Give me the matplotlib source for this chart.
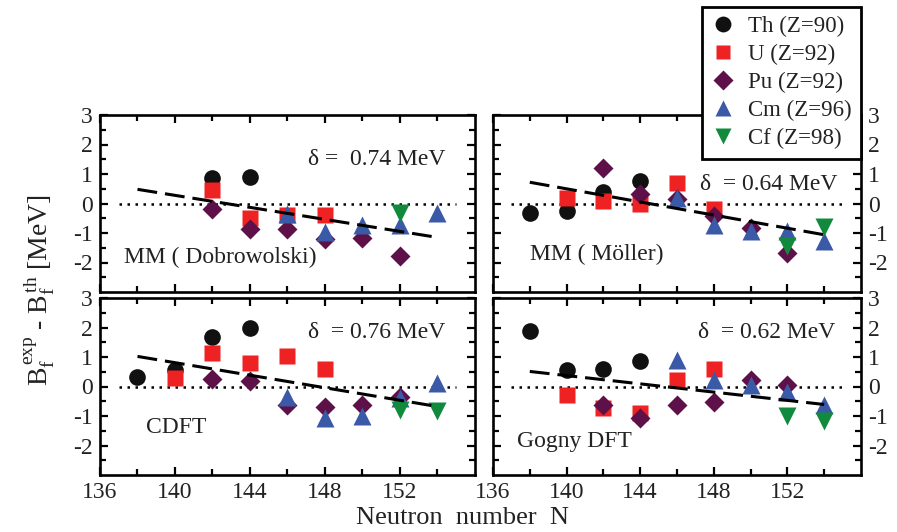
import matplotlib
matplotlib.use("Agg")
import matplotlib.pyplot as plt
from matplotlib.lines import Line2D

plt.rcParams['font.family'] = ['Liberation Serif', 'DejaVu Serif']
plt.rcParams['mathtext.fontset'] = 'custom'
plt.rcParams['mathtext.rm'] = 'Liberation Serif'
plt.rcParams['mathtext.it'] = 'Liberation Serif:italic'
plt.rcParams['axes.unicode_minus'] = False

TXT = '#222222'

# species: label, marker, colour
species = ['Th (Z=90)', 'U (Z=92)', 'Pu (Z=92)', 'Cm (Z=96)', 'Cf (Z=98)']
markers = ['o', 's', 'D', '^', 'v']
msizes = [12, 11, 10.5, 12.5, 12.5]
colors = ['#111111', '#ee2222', '#5e1048', '#3a5aa8', '#128a3e']

# MM (Dobrowolski)
dob_N = [[142, 144],
         [142, 144, 146, 148],
         [142, 144, 146, 148, 150, 152],
         [146, 148, 150, 152, 154],
         [152]]
dob_d = [[0.85, 0.9],
         [0.45, -0.49, -0.38, -0.38],
         [-0.2, -0.88, -0.88, -1.2, -1.18, -1.78],
         [-0.37, -0.95, -0.72, -0.72, -0.32],
         [-0.32]]

# MM (Moller)
mol_N = [[138, 140, 142, 144],
         [140, 142, 144, 146, 148],
         [142, 144, 146, 148, 150, 152],
         [146, 148, 150, 152, 154],
         [152, 154]]
mol_d = [[-0.32, -0.26, 0.4, 0.76],
         [0.19, 0.08, -0.03, 0.7, -0.2],
         [1.22, 0.31, 0.14, -0.43, -0.83, -1.68],
         [0.19, -0.72, -0.94, -0.94, -1.28],
         [-1.45, -0.8]]

# CDFT
cdft_N = [[138, 140, 142, 144],
          [140, 142, 144, 146, 148],
          [142, 144, 146, 148, 150, 152],
          [146, 148, 150, 152, 154],
          [152, 154]]
cdft_d = [[0.32, 0.57, 1.67, 1.97],
          [0.28, 1.14, 0.8, 1.05, 0.59],
          [0.25, 0.2, -0.62, -0.68, -0.62, -0.36],
          [-0.36, -1.08, -1.0, -0.4, 0.11],
          [-0.78, -0.82]]

# Gogny DFT
gog_N = [[138, 140, 142, 144],
         [140, 142, 144, 146, 148],
         [142, 144, 146, 148, 150, 152],
         [146, 148, 150, 152, 154],
         [152, 154]]
gog_d = [[1.88, 0.57, 0.59, 0.85],
         [-0.28, -0.74, -0.91, 0.23, 0.59],
         [-0.62, -1.08, -0.62, -0.51, 0.23, 0.06],
         [0.91, 0.23, 0.06, -0.17, -0.62],
         [-1.0, -1.17]]

# linear trends (end points)
fit_N = [138, 154]
dob_fit = [0.48, -1.15]
mol_fit = [0.72, -1.06]
cdft_fit = [1.02, -0.68]
gog_fit = [0.51, -0.61]

panels = [
    (dob_N, dob_d, dob_fit, 'δ =  0.74 MeV', (154.4, 1.5), 'MM ( Dobrowolski)', (137.3, -1.84)),
    (mol_N, mol_d, mol_fit, 'δ  = 0.64 MeV', (154.7, 0.65), 'MM ( Möller)', (138.0, -1.74)),
    (cdft_N, cdft_d, cdft_fit, 'δ  = 0.76 MeV', (154.4, 1.84), 'CDFT', (138.45, -1.4)),
    (gog_N, gog_d, gog_fit, 'δ  = 0.62 MeV', (154.6, 1.84), 'Gogny DFT', (137.3, -1.88)),
]

fig = plt.figure(figsize=(8.97, 5.32), dpi=100)
W, H = 897.0, 532.0
boxes = [(100, 115, 375, 177), (493, 115, 368, 177),
         (100, 298, 375, 177), (493, 298, 368, 177)]

for i, (NN, dd, fit, dtxt, dpos, name, npos) in enumerate(panels):
    x0, y0, w, h = boxes[i]
    ax = fig.add_axes([x0 / W, 1 - (y0 + h) / H, w / W, h / H])
    ax.plot([137, 155], [0, 0], color='black', lw=1.8, ls=(0, (1, 2.2)), zorder=1)
    for k in range(5):
        ax.plot(NN[k], dd[k], ls='none', marker=markers[k], ms=msizes[k],
                color=colors[k], mec='none', zorder=2 + k)
    ax.plot(fit_N, fit, color='black', lw=2.2, ls=(0, (6.5, 2.6)), zorder=10)
    ax.text(dpos[0], dpos[1], dtxt, ha='right', va='center', fontsize=17, color=TXT)
    ax.text(npos[0], npos[1], name, ha='left', va='center', fontsize=17, color=TXT)

    ax.set_xlim(136, 156)
    ax.set_ylim(-3, 3)
    ax.set_xticks([136, 140, 144, 148, 152])
    ax.set_xticks([138, 142, 146, 150, 154], minor=True)
    ax.set_yticks([-2, -1, 0, 1, 2, 3])
    ax.set_yticks([-2.5, -1.5, -0.5, 0.5, 1.5, 2.5], minor=True)
    for s in ax.spines.values():
        s.set_linewidth(1.9)
    ax.tick_params(which='both', direction='in', top=True, right=True,
                   width=1.6, labelsize=17, labelcolor=TXT, pad=5)
    ax.tick_params(which='major', length=6)
    ax.tick_params(which='minor', length=4)
    if i < 2:
        ax.tick_params(labelbottom=False)
    if i % 2 == 1:
        ax.tick_params(labelleft=False, labelright=True)

fig.text(40 / W, 1 - 290 / H,
         r'$\mathregular{B_f^{\,exp}}$ - $\mathregular{B_f^{\,th}}$ [MeV]',
         rotation=90, ha='center', va='center', fontsize=20, color=TXT)
fig.text(463 / W, 1 - 518 / H, 'Neutron  number  N', ha='center', va='center',
         fontsize=19, color=TXT)

handles = [Line2D([], [], ls='none', marker=markers[k], ms=msizes[k] * 0.95,
                  color=colors[k], mec='none') for k in range(5)]
leg = fig.legend(handles, species, loc='upper left',
                 bbox_to_anchor=(702 / W, 1 - 7 / H), bbox_transform=fig.transFigure,
                 fontsize=16.5, frameon=True, fancybox=False, framealpha=1,
                 edgecolor='black', borderaxespad=0, handlelength=1.0,
                 handletextpad=0.6, labelspacing=0.3, borderpad=0.4)
leg.get_frame().set_linewidth(2.0)
for t in leg.get_texts():
    t.set_color(TXT)

fig.savefig('out.png', dpi=100)
